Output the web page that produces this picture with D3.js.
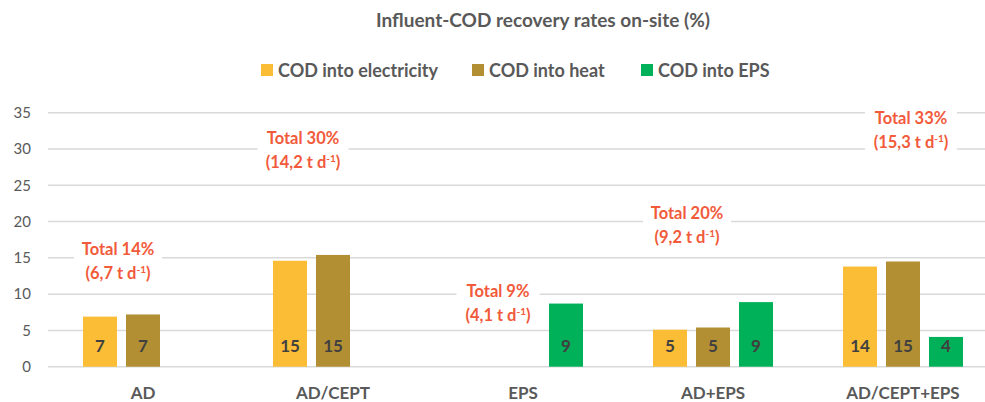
<!DOCTYPE html>
<html><head><meta charset="utf-8">
<script src="https://cdn.jsdelivr.net/npm/d3@7"></script>
<style>body{margin:0;background:#fff}svg{display:block}text{font-family:Lato,"Open Sans",sans-serif}</style>
</head><body><svg id="c" width="985" height="402"></svg>
<script>
const categories = ["AD","AD/CEPT","EPS","AD+EPS","AD/CEPT+EPS"];
const seriesNames = ["COD into electricity","COD into heat","COD into EPS"];
const electricity = [6.9, 14.6, null, 5.1, 13.8];
const heat = [7.2, 15.4, null, 5.4, 14.5];
const eps = [null, null, 8.7, 8.9, 4.1];
const barLabels = [["7","15",null,"5","14"],["7","15",null,"5","15"],[null,null,"9","9","4"]];
const totalLabels = ["Total 14%","Total 30%","Total 9%","Total 20%","Total 33%"];
const loadLabels = ["(6,7 t d","(14,2 t d","(4,1 t d","(9,2 t d","(15,3 t d"];
const totalY = [14.56, 29.85, 8.77, 19.4, 32.5];
const yTicks = [0,5,10,15,20,25,30,35];
const colors = ["#fbbc36","#b38f33","#00b15a"];

const svg = d3.select("#c");
const x = d3.scaleBand().domain(categories).range([48, 998]).padding(0);
const x1 = d3.scaleBand().domain(seriesNames).range([35, 155]).paddingInner(9/43).paddingOuter(0);
const y = d3.scaleLinear().domain([0, 35]).range([366.7, 112.7]);
const gray = "#595959";

// title
svg.append("text").attr("x", 543).attr("y", 27).attr("text-anchor","middle")
  .attr("font-size", 19).attr("font-weight", 700).attr("fill", gray)
  .text("Influent-COD recovery rates on-site (%)");

// legend
const legX = [261, 472, 641];
seriesNames.forEach((s,i)=>{
  svg.append("rect").attr("x", legX[i]).attr("y", 64).attr("width", 12).attr("height", 12).attr("fill", colors[i]);
  svg.append("text").attr("x", legX[i]+17).attr("y", 77).attr("font-size", 18).attr("font-weight", 700)
    .attr("fill", gray).text(s);
});

// gridlines
svg.append("g").selectAll("line").data(yTicks).join("line")
  .attr("x1", 48).attr("x2", 985).attr("y1", d=>y(d)).attr("y2", d=>y(d))
  .attr("stroke", "#d9d9d9").attr("stroke-width", 1.5);

// y axis labels
const yAxis = d3.axisLeft(y).tickValues(yTicks).tickSize(0).tickPadding(0);
const ga = svg.append("g").attr("transform","translate(31,0)").call(yAxis);
ga.select(".domain").remove();
ga.selectAll("text").attr("font-size", 15).attr("fill", gray).attr("font-family","Lato,sans-serif");

// bars
const series = [electricity, heat, eps];
series.forEach((vals, si)=>{
  const g = svg.append("g");
  const d = categories.map((c,i)=>({c, v: vals[i], lab: barLabels[si][i]})).filter(o=>o.v!=null);
  g.selectAll("rect").data(d).join("rect")
    .attr("x", o=>x(o.c)+x1(seriesNames[si])).attr("width", x1.bandwidth())
    .attr("y", o=>y(o.v)).attr("height", o=>y(0)-y(o.v)).attr("fill", colors[si]);
  g.selectAll("text").data(d).join("text")
    .attr("x", o=>x(o.c)+x1(seriesNames[si])+x1.bandwidth()/2).attr("y", 352)
    .attr("text-anchor","middle").attr("font-size", 17).attr("font-weight", 700).attr("fill", "#404040")
    .text(o=>o.lab);
});

// category labels
svg.append("g").selectAll("text").data(categories).join("text")
  .attr("x", c=>x(c)+x.bandwidth()/2).attr("y", 399).attr("text-anchor","middle")
  .attr("font-size", 17).attr("font-weight", 700).attr("fill", gray).text(c=>c);

// total annotations
const offX = [-25, -30, -25, -26, 8];
const boxW = [88, 91, 83, 88, 92];
const ann = svg.append("g");
categories.forEach((c,i)=>{
  const cx = x(c)+x.bandwidth()/2+offX[i];
  const cy = y(totalY[i]);
  ann.append("rect").attr("x", cx-boxW[i]/2).attr("y", cy-26).attr("width", boxW[i]).attr("height", 52).attr("fill","#fff");
  ann.append("text").attr("x", cx).attr("y", cy-6.5).attr("text-anchor","middle")
    .attr("font-size", 16.5).attr("font-weight", 700).attr("fill", "#f15a3a").text(totalLabels[i]);
  const t = ann.append("text").attr("x", cx).attr("y", cy+17.5).attr("text-anchor","middle")
    .attr("font-size", 16.5).attr("font-weight", 700).attr("fill", "#f15a3a");
  t.append("tspan").text(loadLabels[i]);
  t.append("tspan").attr("dy", -6).attr("font-size", 10).text("-1");
  t.append("tspan").attr("dy", 6).text(")");
});
</script></body></html>
